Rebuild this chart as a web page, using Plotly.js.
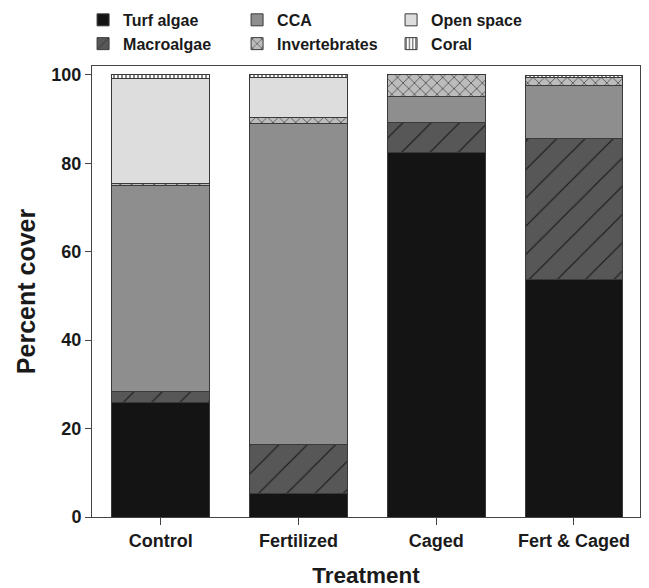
<!DOCTYPE html>
<html>
<head>
<meta charset="utf-8">
<script src="https://cdn.plot.ly/plotly-3.0.1.min.js"></script>
<style>html,body{margin:0;padding:0;background:#fff;}#chart{width:649px;height:588px;}</style>
</head>
<body>
<div id="chart"></div>
<script>
const treatments = ["Control", "Fertilized", "Caged", "Fert & Caged"];
const turfAlgae     = [26.0, 5.4, 82.5, 53.8];
const macroalgae    = [2.3, 10.9, 6.8, 31.9];
const cca           = [46.6, 72.7, 5.7, 11.9];
const invertebrates = [0.5, 1.4, 5.0, 1.9];
const openSpace     = [23.8, 9.0, 0.0, 0.0];
const coral         = [0.8, 0.6, 0.0, 0.3];

const seriesNames = ["Turf algae", "Macroalgae", "CCA", "Invertebrates", "Open space", "Coral"];
const seriesValues = [turfAlgae, macroalgae, cca, invertebrates, openSpace, coral];
const styles = [
  {color: "#141414", rank: 1, pattern: {shape: ""}},
  {color: "#575757", rank: 4, pattern: {shape: "/", fgcolor: "#1a1a1a", bgcolor: "#575757", size: 20, solidity: 0.06, fillmode: "replace"}},
  {color: "#8e8e8e", rank: 2, pattern: {shape: ""}},
  {color: "#bcbcbc", rank: 5, pattern: {shape: "x", fgcolor: "#2a2a2a", bgcolor: "#bcbcbc", size: 8, solidity: 0.15, fillmode: "replace"}},
  {color: "#dddddd", rank: 3, pattern: {shape: ""}},
  {color: "#ffffff", rank: 6, pattern: {shape: "|", fgcolor: "#333333", bgcolor: "#ffffff", size: 4, solidity: 0.3, fillmode: "replace"}}
];

const FONT = "Liberation Sans, Arial, sans-serif";

const traces = seriesNames.map((name, i) => ({
  type: "bar",
  name: name,
  x: treatments,
  y: seriesValues[i],
  width: 0.71,
  legendrank: styles[i].rank,
  marker: {
    color: styles[i].color,
    line: {color: "#3a3a3a", width: 1},
    pattern: styles[i].pattern
  },
  hoverinfo: "x+y+name"
}));

const layout = {
  width: 649,
  height: 588,
  barmode: "stack",
  paper_bgcolor: "#ffffff",
  plot_bgcolor: "#ffffff",
  margin: {l: 92, r: 9, t: 66, b: 71, autoexpand: false},
  font: {family: FONT, color: "#1a1a1a"},
  showlegend: true,
  legend: {
    orientation: "h",
    xref: "container", yref: "container",
    x: 0.128, y: 0.995, xanchor: "left", yanchor: "top",
    entrywidth: 109, entrywidthmode: "pixels",
    font: {size: 16, family: FONT, weight: "bold", color: "#1a1a1a"},
    traceorder: "normal",
    tracegroupgap: 0,
    itemwidth: 30,
    bgcolor: "rgba(0,0,0,0)"
  },
  xaxis: {
    type: "category",
    range: [-0.5, 3.48],
    automargin: false,
    showline: true, linecolor: "#444", linewidth: 1, mirror: true,
    ticks: "outside", ticklen: 7, tickcolor: "#444",
    tickfont: {size: 18, family: FONT, weight: "bold", color: "#1a1a1a"},
    title: {text: "Treatment", font: {size: 22.5, family: FONT, weight: "bold", color: "#1a1a1a"}, standoff: 19},
    showgrid: false, zeroline: false
  },
  yaxis: {
    range: [0, 102],
    tickvals: [0, 20, 40, 60, 80, 100],
    automargin: false,
    showline: true, linecolor: "#444", linewidth: 1, mirror: true,
    ticks: "outside", ticklen: 6, tickcolor: "#444",
    tickfont: {size: 18, family: FONT, weight: "bold", color: "#1a1a1a"},
    title: {text: "Percent cover", font: {size: 25, family: FONT, weight: "bold", color: "#1a1a1a"}, standoff: 8},
    showgrid: false, zeroline: false
  }
};

Plotly.newPlot("chart", traces, layout, {displayModeBar: false, staticPlot: true});
</script>
</body>
</html>
